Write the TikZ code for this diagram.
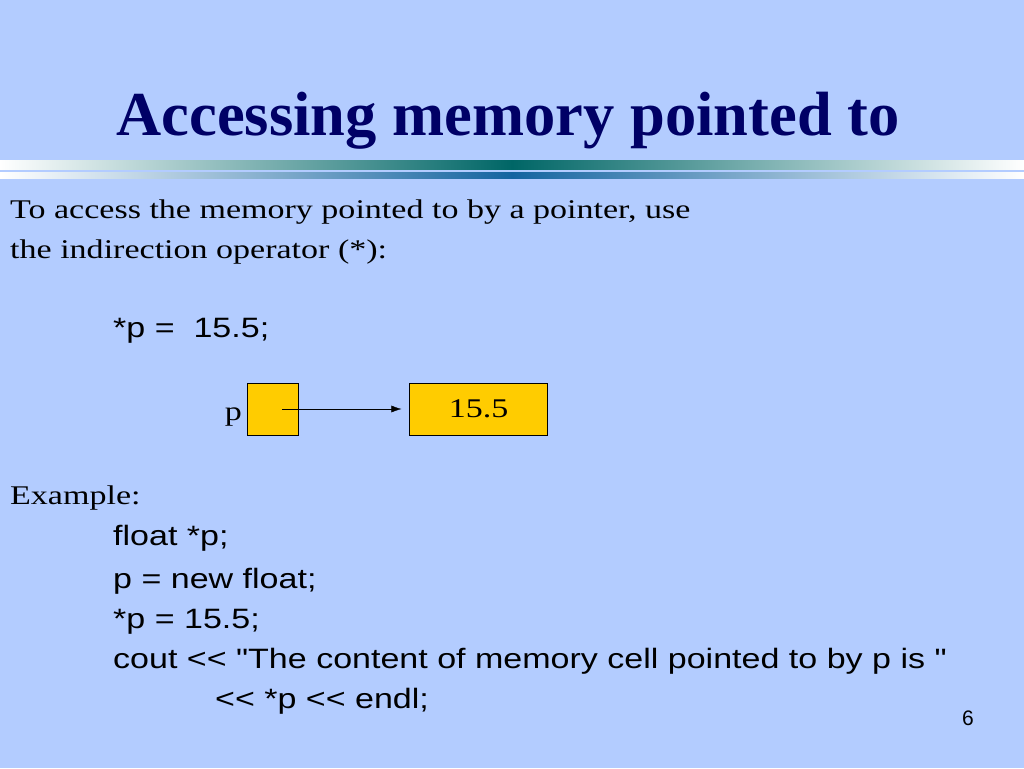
\documentclass[tikz,border=0pt]{standalone}
\usepackage{fontspec}
\setmainfont{Liberation Serif}
\setsansfont{Liberation Sans}[Ligatures=TeXOff]
\newfontfamily\widebody{Liberation Serif}[FakeStretch=1.26]
\newfontfamily\widecode{Liberation Sans}[FakeStretch=1.215, Ligatures=TeXOff]
\usetikzlibrary{arrows.meta, positioning}
\definecolor{slidebg}{RGB}{179,204,255}
\definecolor{titleblue}{RGB}{0,0,102}
\definecolor{cellgold}{RGB}{255,204,0}
\definecolor{stripeteal}{RGB}{0,102,102}
\definecolor{stripeblue}{RGB}{20,100,160}

\begin{document}
\begin{tikzpicture}[
            x=1pt, y=-1pt,
            node distance=111pt,
            titletext/.style={font=\fontsize{62.5}{62.5}\selectfont\bfseries, text=titleblue, inner sep=0pt},
            bodytext/.style={font=\widebody\fontsize{27}{27}\selectfont, anchor=base west, inner sep=0pt},
            codetext/.style={font=\widecode\fontsize{28}{28}\selectfont, anchor=base west, inner sep=0pt},
            cellbox/.style={draw=black, fill=cellgold, minimum height=52pt, inner sep=0pt},
            ]
            % background
            \fill[slidebg] (0,0) rectangle (1024,768);
            \useasboundingbox (0,0) rectangle (1024,768);

            % title and stripes
            \node[titletext, anchor=base] (title) at (508,135) {Accessing memory pointed to};
            \shade[left color=white, right color=white, middle color=stripeteal] (0,160) rectangle (1024,169);
            \shade[left color=white, right color=white, middle color=stripeblue] (0,172) rectangle (1024,178);

            % explanation
            \node[bodytext] (intro1) at (10,218) {To access the memory pointed to by a pointer, use};
            \node[bodytext] (intro2) at (10,258) {the indirection operator (*):};
            \node[codetext] (assign) at (113,337) {*p =\ \ 15.5;};

            % pointer diagram
            \node[cellbox, minimum width=51pt, anchor=north west] (pcell) at (247,383) {};
            \node[cellbox, minimum width=138pt] (vcell) [right=of pcell] {\widebody\fontsize{27}{27}\selectfont 15.5};
            \node[bodytext, anchor=base east] (plabel) at (242,420) {p};
            \coordinate (pstart) at (282,409);
            \draw[-{Latex[length=10pt,width=7pt]}, shorten >=8pt] (pstart) -- (pstart -| vcell.west);

            % example code
            \node[bodytext] (example) at (10,504) {Example:};
            \node[codetext] (line1) at (113,545) {float *p;};
            \node[codetext] (line2) at (113,588) {p = new float;};
            \node[codetext] (line3) at (113,628) {*p = 15.5;};
            \node[codetext] (line4) at (113,668) {cout << "The content of memory cell pointed to by p is "};
            \node[codetext] (line5) at (215,708) {<< *p << endl;};

            % page number
            \node[codetext, font=\sffamily\fontsize{21}{21}\selectfont] (pagenum) at (962,725) {6};
\end{tikzpicture}
\end{document}
